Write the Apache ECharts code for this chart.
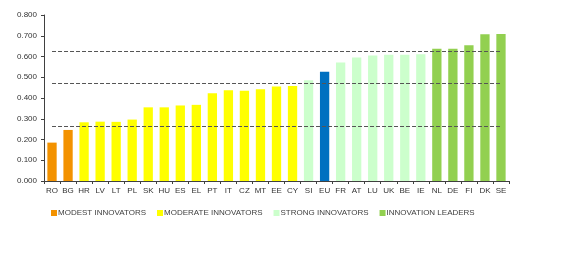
<!DOCTYPE html>
<html><head><meta charset="utf-8">
<script src="https://cdn.jsdelivr.net/npm/echarts@6/dist/echarts.min.js"></script>
<style>html,body{margin:0;padding:0;background:#fff}#c{width:568px;height:270px}</style>
</head><body><div id="c"></div>
<script>
var categories = ['RO','BG','HR','LV','LT','PL','SK','HU','ES','EL','PT','IT','CZ','MT','EE','CY','SI','EU','FR','AT','LU','UK','BE','IE','NL','DE','FI','DK','SE'];
var values = [0.185,0.246,0.283,0.286,0.285,0.296,0.355,0.355,0.364,0.367,0.423,0.437,0.435,0.442,0.455,0.458,0.486,0.526,0.571,0.595,0.605,0.608,0.608,0.611,0.637,0.637,0.654,0.707,0.709];
var groups = ['M','M','D','D','D','D','D','D','D','D','D','D','D','D','D','D','S','EU','S','S','S','S','S','S','L','L','L','L','L'];
var groupKeys = ['M','D','S','L','EU'];
var groupNames = ['MODEST INNOVATORS','MODERATE INNOVATORS','STRONG INNOVATORS','INNOVATION LEADERS','EU'];
var groupColors = ['#F39200','#FFFF00','#CCFFCC','#92D050','#0070C0'];
var thresholds = [0.262, 0.471, 0.627];
var yTicks = [0,0.1,0.2,0.3,0.4,0.5,0.6,0.7,0.8];

var FONT = '"Liberation Sans", Arial, sans-serif';
var series = groupKeys.map(function(k, gi){
  return {
    name: groupNames[gi], type: 'bar', stack: 'all', barWidth: '58%',
    itemStyle: {color: groupColors[gi]},
    data: values.map(function(v,i){ return groups[i]===k ? v : '-'; }),
    silent: true
  };
});
series[0].markLine = {
  silent: true, symbol: 'none', label: {show:false},
  lineStyle: {color:'#555555', type:[4,2], width:1},
  data: thresholds.map(function(t){ return [{coord:[0,t]},{coord:[categories.length-1,t]}]; })
};
var chart = echarts.init(document.getElementById('c'), null, {renderer:'canvas'});
chart.setOption({
  animation: false,
  backgroundColor: '#fff',
  textStyle: {fontFamily: FONT},
  grid: {left: 44, right: 59, top: 15, bottom: 89, containLabel: false},
  legend: {
    data: groupNames.slice(0,4), left: 46, top: 204, icon: 'rect',
    itemWidth: 6, itemHeight: 6, itemGap: 11,
    textStyle: {fontFamily: FONT, fontSize: 8, color: '#404040', padding:[0,0,0,-4]},
    selectedMode: false
  },
  xAxis: {
    type: 'category', data: categories,
    axisLine: {lineStyle: {color:'#404040', width:1}},
    axisTick: {show:true, length:3, lineStyle:{color:'#404040'}},
    axisLabel: {fontFamily: FONT, fontSize: 8, color: '#333', margin: 6, interval: 0}
  },
  yAxis: {
    type: 'value', min: 0, max: 0.8, interval: 0.1,
    axisLine: {show:true, lineStyle: {color:'#404040', width:1}},
    axisTick: {show:true, length:3, lineStyle:{color:'#404040'}},
    splitLine: {show:false},
    axisLabel: {fontFamily: FONT, fontSize: 8, color: '#333', margin: 7,
      formatter: function(v){ return v.toFixed(3); }}
  },
  series: series
});
</script></body></html>
